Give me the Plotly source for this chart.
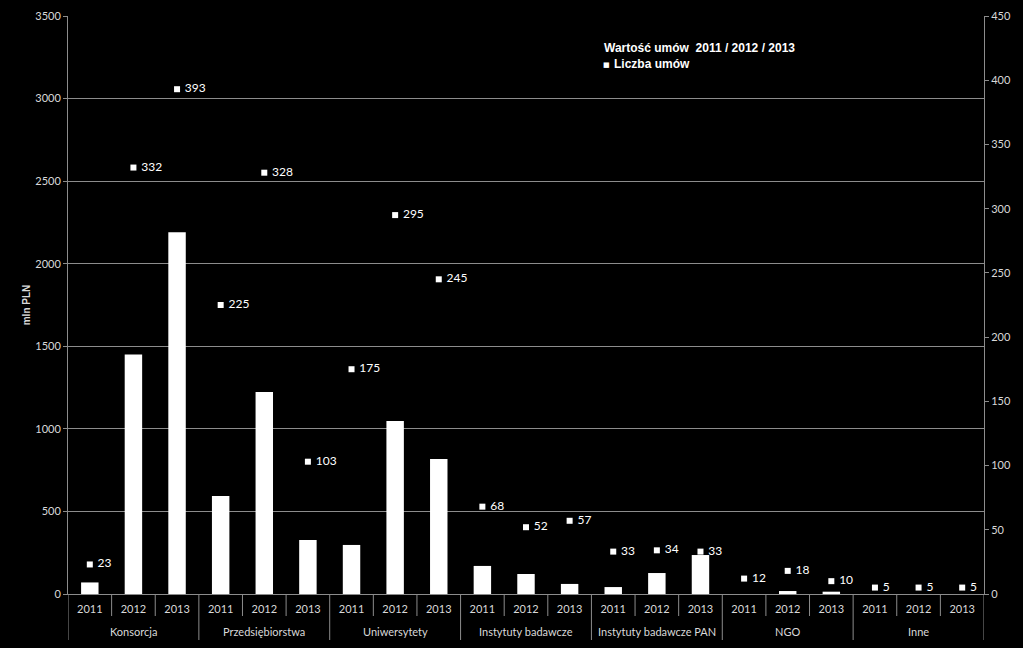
import plotly.graph_objects as go

groups = ["Konsorcja", "Przedsiębiorstwa", "Uniwersytety", "Instytuty badawcze",
          "Instytuty badawcze PAN", "NGO", "Inne"]
years = ["2011", "2012", "2013"]
values_mln = [70, 1450, 2190,
              593, 1223, 327,
              297, 1048, 817,
              170, 121, 61,
              42, 127, 236,
              0, 18, 14,
              0, 0, 0]
contracts = [23, 332, 393,
             225, 328, 103,
             175, 295, 245,
             68, 52, 57,
             33, 34, 33,
             12, 18, 10,
             5, 5, 5]

cats = [f"{g}|{y}" for g in groups for y in years]
year_text = [y for _ in groups for y in years]

FONT = "Lato"
TICKC = "#d9d9d9"
GRID = "#8c8c8c"
L, R, T, B = 68, 39, 16, 54
W, H = 1023, 648
PW, PH = W - L - R, H - T - B

fig = go.Figure()
fig.add_trace(go.Bar(
    x=cats, y=values_mln,
    marker=dict(color="white", line=dict(width=0)),
    name="Wartość umów  2011 / 2012 / 2013",
))
fig.add_trace(go.Scatter(
    x=cats, y=contracts, yaxis="y2",
    mode="markers+text",
    marker=dict(symbol="square", size=6, color="white"),
    text=[f" {v}" for v in contracts],
    textposition="middle right",
    textfont=dict(family=FONT, size=12, color="white"),
    name="Liczba umów",
))

shapes = []
n = len(cats)
for i in range(n + 1):
    is_group = (i % len(years) == 0)
    shapes.append(dict(
        type="line", xref="x", yref="paper",
        x0=i - 0.5, x1=i - 0.5, y0=0, y1=-(46 if is_group else 22) / PH,
        line=dict(color=GRID, width=1),
    ))

annotations = []
for gi, g in enumerate(groups):
    annotations.append(dict(
        text=g, x=gi * len(years) + 1, xref="x", y=-(631 - (H - B)) / PH, yref="paper",
        showarrow=False, xanchor="center", yanchor="middle",
        font=dict(family=FONT, size=11, color=TICKC),
    ))

annotations += [
    dict(text="<b>Wartość umów  2011 / 2012 / 2013</b>", x=(602 - L) / PW, y=(H - 48 - B) / PH,
         xref="paper", yref="paper", showarrow=False, xanchor="left", yanchor="middle",
         font=dict(family="Liberation Sans", size=12, color="white")),
    dict(text="■", x=(606 - L) / PW, y=(H - 65 - B) / PH,
         xref="paper", yref="paper", showarrow=False, xanchor="center", yanchor="middle",
         font=dict(family="DejaVu Sans", size=7, color="white")),
    dict(text="<b>Liczba umów</b>", x=(612 - L) / PW, y=(H - 64 - B) / PH,
         xref="paper", yref="paper", showarrow=False, xanchor="left", yanchor="middle",
         font=dict(family="Liberation Sans", size=12, color="white")),
]

fig.update_layout(
    width=W, height=H,
    paper_bgcolor="black", plot_bgcolor="black",
    margin=dict(l=L, r=R, t=T, b=B, autoexpand=False),
    showlegend=False,
    bargap=0.6,
    font=dict(family=FONT, color=TICKC, size=11),
    xaxis=dict(
        type="category", range=[-0.5, n - 0.5], showgrid=False,
        showline=True, linecolor=GRID, linewidth=1,
        ticks="", tickvals=cats, ticktext=year_text, ticklabelstandoff=5,
        tickfont=dict(family=FONT, size=11, color=TICKC),
        automargin=False,
    ),
    yaxis=dict(
        range=[0, 3500], dtick=500, showgrid=True, gridcolor=GRID, gridwidth=1,
        showline=True, linecolor=GRID, linewidth=1,
        ticks="outside", ticklen=4, tickcolor=GRID,
        tickfont=dict(family=FONT, size=11, color=TICKC),
        zeroline=False, automargin=False,
        title=dict(text="<b>mln PLN</b>", font=dict(family="Liberation Sans", size=10, color=TICKC), standoff=2),
    ),
    yaxis2=dict(
        overlaying="y", side="right", range=[0, 450], dtick=50, showgrid=False,
        showline=True, linecolor=GRID, linewidth=1,
        ticks="outside", ticklen=4, tickcolor=GRID,
        tickfont=dict(family=FONT, size=11, color=TICKC),
        zeroline=False, automargin=False,
    ),
    shapes=shapes,
    annotations=annotations,
)

fig.write_html("out.html")
